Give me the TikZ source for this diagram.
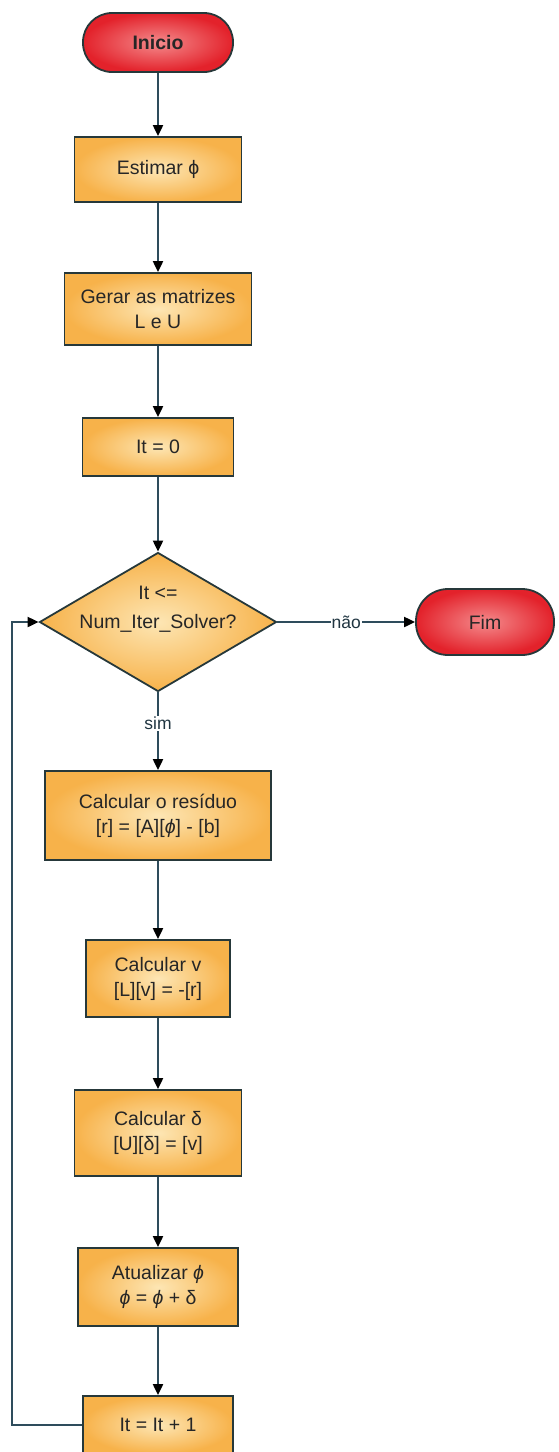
\documentclass[tikz,border=0pt]{standalone}
\usepackage{fontspec}
\setmainfont{Liberation Sans}
\usetikzlibrary{shapes.geometric,arrows.meta}
\definecolor{boxout}{HTML}{F7B24A}
\definecolor{boxin}{HTML}{FDE6B4}
\definecolor{redout}{HTML}{E3222B}
\definecolor{redin}{HTML}{F48A8C}
\definecolor{edge}{HTML}{26383A}
\definecolor{wire}{HTML}{2E4C5C}
\tikzset{
  base/.style={font=\fontsize{19.5}{25}\selectfont, align=center, inner sep=0pt, draw=edge, line width=1.8pt, text=black!85},
  procbox/.style={base, rectangle, inner color=boxin, outer color=boxout},
  termbox/.style={base, rectangle, rounded corners=29pt, inner color=redin, outer color=redout, minimum height=59pt},
  decbox/.style={base, diamond, inner color=boxin, outer color=boxout, minimum width=237pt, minimum height=139pt},
  txt/.style={font=\fontsize{19.5}{29}\selectfont, align=center, inner sep=0pt, text=black!85},
  conn/.style={draw=wire, line width=2pt, -{Triangle[length=11pt,width=10pt,color=black]}},
  lbl/.style={font=\fontsize{17.5}{20}\selectfont, fill=white, inner sep=1pt, text=wire!70!black}
}
\begin{document}
\begin{tikzpicture}[x=1pt,y=-1pt]
\useasboundingbox (0,0) rectangle (558,1452);
\node[termbox, minimum width=150pt, font=\fontsize{19.5}{25}\selectfont\bfseries] (ini) at (158,42.5) {Inicio};
\node[procbox, minimum width=167pt, minimum height=65pt] (est) at (158,169.5) {Estimar ϕ};
\node[procbox, minimum width=187pt, minimum height=72pt] (ger) at (158,309) {Gerar as matrizes\\L e U};
\node[procbox, minimum width=151pt, minimum height=58pt] (it0) at (158,447) {It = 0};
\node[decbox] (dec) at (158,622) {};
\node[txt] (dect) at (158,609) {It <=\\Num\_Iter\_Solver?};
\node[termbox, minimum width=138pt, minimum height=66pt, rounded corners=32pt] (fim) at (485,622) {Fim};
\node[procbox, minimum width=226pt, minimum height=89pt] (res) at (158,815.5) {Calcular o resíduo\\{[r] = [A][\textit{ϕ}] - [b]}};
\node[procbox, minimum width=144pt, minimum height=77pt] (cv) at (158,978.5) {Calcular v\\{[L][v] = -[r]}};
\node[procbox, minimum width=167pt, minimum height=86pt] (cd) at (158,1133) {Calcular δ\\{[U][δ] = [v]}};
\node[procbox, minimum width=160pt, minimum height=78pt] (at) at (158,1287) {Atualizar \textit{ϕ}\\\textit{ϕ} = \textit{ϕ} + δ};
\node[procbox, minimum width=150pt, minimum height=58pt] (inc) at (158,1425) {It = It + 1};
\coordinate (lp1) at (12,1425);
\coordinate (lp2) at (12,622);
\draw[conn] (ini) -- (est);
\draw[conn] (est) -- (ger);
\draw[conn] (ger) -- (it0);
\draw[conn] (it0.south) -- (dec.north);
\draw[conn] (dec.east) -- node[lbl]{não} (fim.west);
\draw[conn] (dec.south) -- node[lbl, pos=0.4]{sim} (res.north);
\draw[conn] (res) -- (cv);
\draw[conn] (cv) -- (cd);
\draw[conn] (cd) -- (at);
\draw[conn] (at) -- (inc);
\draw[conn] (inc.west) -- (lp1) -- (lp2) -- (dec.west);
\end{tikzpicture}
\end{document}
